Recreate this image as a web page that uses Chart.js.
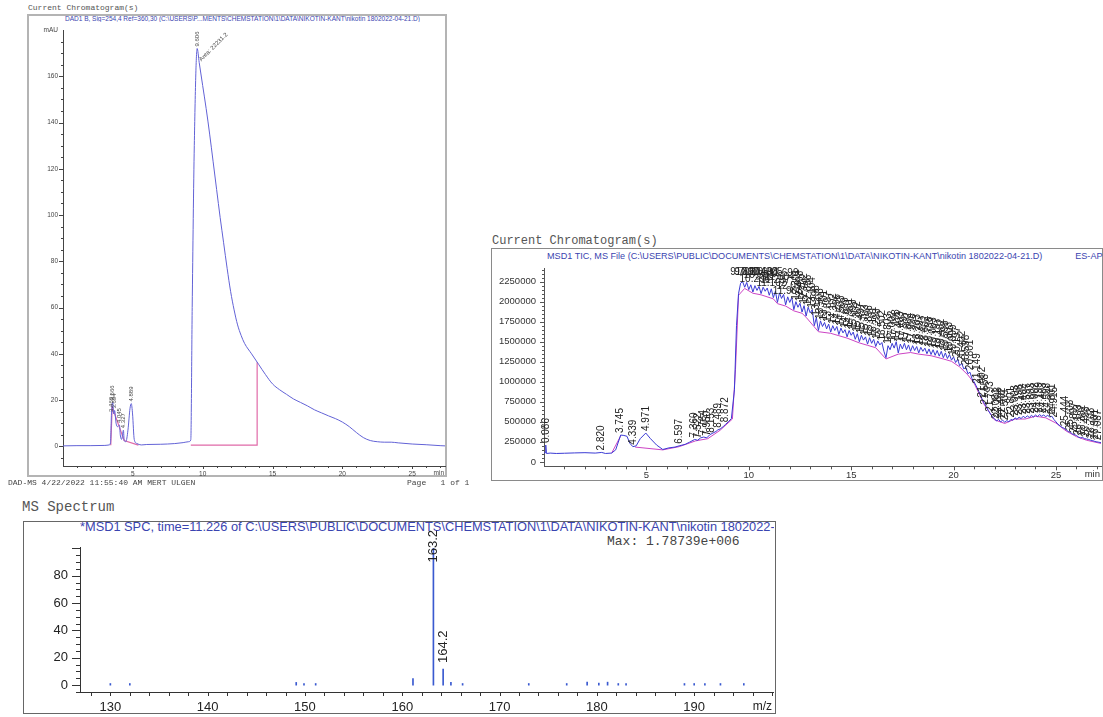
<!DOCTYPE html>
<html>
<head>
<meta charset="utf-8">
<script src="https://cdn.jsdelivr.net/npm/chart.js@4.4.1/dist/chart.umd.min.js"></script>
<style>
  body { margin: 0; background: #fff; width: 1103px; height: 717px; overflow: hidden; position: relative; }
  .txt { position: absolute; white-space: pre; line-height: 1; }
  .mono { font-family: 'Liberation Mono', 'Courier New', monospace; color: #555; }
  .ttl { font-family: 'Liberation Sans', Arial, sans-serif; color: #3a44b0; overflow: hidden; }
  .frame { position: absolute; box-sizing: border-box; }
  canvas { position: absolute; }
</style>
</head>
<body>
<!-- DAD chromatogram -->
<div class="txt mono" style="left:28px;top:4px;font-size:8px;">Current Chromatogram(s)</div>
<div class="frame" style="left:27px;top:14px;width:420px;height:463px;border:2px solid #b4b4b4;"></div>
<div class="txt ttl" style="left:65px;top:15.5px;font-size:6.5px;">DAD1 B, Sig=254,4 Ref=360,30 (C:\USERS\P...MENTS\CHEMSTATION\1\DATA\NIKOTIN-KANT\nikotin 1802022-04-21.D)</div>
<canvas id="dadChart" width="418" height="465" style="left:28px;top:15px;"></canvas>
<div class="txt mono" style="left:8px;top:479px;font-size:8px;color:#444;">DAD-MS 4/22/2022 11:55:40 AM MERT ULGEN</div>
<div class="txt mono" style="left:407px;top:479px;font-size:8px;color:#444;">Page   1 of 1</div>

<!-- MSD TIC -->
<div class="txt mono" style="left:492px;top:235px;font-size:12px;">Current Chromatogram(s)</div>
<div class="frame" style="left:491px;top:248px;width:612px;height:233px;border:1px solid #8a8a8a;"></div>
<div class="txt ttl" style="left:547px;top:251.5px;width:556px;font-size:9.1px;">MSD1 TIC, MS File (C:\USERS\PUBLIC\DOCUMENTS\CHEMSTATION\1\DATA\NIKOTIN-KANT\nikotin 1802022-04-21.D)             ES-API, Pos, Scan, Frag: 70</div>
<canvas id="ticChart" width="611" height="231" style="left:492px;top:249px;"></canvas>

<!-- MS spectrum -->
<div class="txt mono" style="left:22px;top:500px;font-size:14px;">MS Spectrum</div>
<div class="frame" style="left:23px;top:521px;width:753px;height:193px;border:1px solid #666;"></div>
<div class="txt ttl" style="left:80px;top:521px;width:694px;font-size:12.8px;">*MSD1 SPC, time=11.226 of C:\USERS\PUBLIC\DOCUMENTS\CHEMSTATION\1\DATA\NIKOTIN-KANT\nikotin 1802022-04-21.D   ES-API, Pos</div>
<div class="txt mono" style="left:607px;top:535px;font-size:13px;color:#444;">Max: 1.78739e+006</div>
<canvas id="msChart" width="751" height="191" style="left:24px;top:522px;"></canvas>

<script>
// DAD1 B, 254 nm (mAU)
const dadTime = [0, 1, 2, 3, 3.3, 3.4, 3.469, 3.52, 3.566, 3.62, 3.694, 3.8, 3.9, 4.0, 4.045, 4.1, 4.2, 4.327, 4.38, 4.5, 4.65, 4.8, 4.889, 4.98, 5.1, 5.3, 5.6,
    6, 7, 8, 8.6, 9.0, 9.15, 9.25, 9.4, 9.606, 9.75, 10, 10.25, 10.5, 10.75, 11, 11.25, 11.5, 11.75, 12, 12.25, 12.5, 12.75, 13, 13.5, 14, 14.5, 15, 15.5, 16, 16.5, 17,
    17.5, 18, 18.5, 19, 19.5, 20, 20.5, 21, 21.5, 22, 22.5, 23, 23.5, 24, 25, 26, 27, 27.35];
const dadAbs = [0.2, 0.3, 0.3, 0.4, 0.6, 1.5, 14, 18, 19, 14, 15.5, 10, 8.5, 9, 9.2, 5, 3, 7, 2.5, 2, 7, 16.5, 18.5, 14, 3, 1.2, 0.6,
    0.8, 0.9, 1.2, 1.6, 2, 2.8, 60, 130, 172, 166, 156, 146, 135, 123, 111, 99, 88, 77, 67, 59, 52.5, 48, 44.5, 40, 35.5, 31, 27, 24.5, 22.5, 20.5, 19,
    17.5, 15.8, 14.5, 13.2, 12, 10.5, 8.5, 6, 3.8, 2.5, 2, 1.8, 1.8, 1.5, 1, 0.7, 0.3, 0.2];
const dadBaseTime = [3.42, 3.52, 4.38, 5.4, 5.41, 9.15, 13.9, 13.9];
const dadBaseAbs = [0.5, 17, 2.5, 0.5, null, 0.5, 0.5, 36.4];
const dadPeakTimes = [3.469, 3.566, 3.694, 4.045, 4.327, 4.889, 9.606];
const dadAreaLabel = 'Area: 22231.2';
const dadAreaTime = 9.75;
const dadYTicks = [0, 20, 40, 60, 80, 100, 120, 140, 160, 180];
const dadXTicks = [5, 10, 15, 20, 25];

// MSD1 TIC (counts)
const ticTime = [0, 0.05, 0.086, 0.12, 0.3, 0.6, 1, 1.5, 2, 2.5, 2.82, 3.0, 3.3, 3.5, 3.745, 3.9, 4.05, 4.2, 4.339, 4.5, 4.7, 4.971,
    5.2, 5.5, 5.8, 6.1, 6.4, 6.597, 6.9, 7.1, 7.36, 7.5, 7.65, 7.8, 7.95, 8.1, 8.25, 8.4, 8.489, 8.6, 8.75, 8.872, 9.0, 9.15, 9.3, 9.4, 9.5,
    9.6, 9.7, 9.8, 9.9, 10.0, 10.1, 10.2, 10.3, 10.4, 10.5, 10.6, 10.7, 10.8, 10.9, 11.0, 11.1, 11.2, 11.3, 11.4, 11.5,
    11.6, 11.7, 11.8, 11.9, 12.0, 12.1, 12.2, 12.3, 12.4, 12.5, 12.6, 12.7, 12.8, 12.9, 13.0, 13.1, 13.2, 13.3, 13.4, 13.5,
    13.6, 13.7, 13.8, 13.9, 14.0, 14.1, 14.2, 14.3, 14.4, 14.5, 14.6, 14.7, 14.8, 14.9, 15.0, 15.1, 15.2, 15.3, 15.4, 15.5,
    15.6, 15.7, 15.8, 15.9, 16.0, 16.1, 16.2, 16.3, 16.4, 16.5, 16.6, 16.7, 16.8, 16.9, 17.0, 17.1, 17.2, 17.3, 17.4, 17.5,
    17.6, 17.7, 17.8, 17.9, 18.0, 18.1, 18.2, 18.3, 18.4, 18.5, 18.6, 18.7, 18.8, 18.9, 19.0, 19.1, 19.2, 19.3, 19.4, 19.5,
    19.6, 19.7, 19.8, 19.9, 20.0, 20.1, 20.2, 20.3, 20.4, 20.5, 20.6, 20.7, 20.8, 20.9, 21.0, 21.1, 21.2, 21.3, 21.4, 21.5,
    21.6, 21.7, 21.8, 21.9, 22.0, 22.1, 22.2, 22.3, 22.4, 22.5, 22.6, 22.7, 22.8, 22.9, 23.0, 23.1, 23.2, 23.3, 23.4, 23.5,
    23.6, 23.7, 23.8, 23.9, 24.0, 24.1, 24.2, 24.3, 24.4, 24.5, 24.6, 24.7, 24.8, 24.9, 25.0, 25.1, 25.2, 25.3, 25.4, 25.5,
    25.6, 25.7, 25.8, 25.9, 26.0, 26.1, 26.2, 26.3, 26.4, 26.5, 26.6, 26.7, 26.8, 26.9, 27.0, 27.1, 27.2];
const ticCounts = [110000, 115000, 210000, 105000, 110000, 105000, 108000, 112000, 115000, 110000, 118000, 105000, 110000, 150000, 335000, 330000, 320000, 230000, 190000, 200000, 290000, 360000,
    290000, 210000, 155000, 175000, 185000, 200000, 220000, 245000, 280000, 270000, 300000, 310000, 300000, 340000, 360000, 380000, 400000, 410000, 440000, 470000, 500000, 540000, 900000, 1700000, 2100000,
    2230000, 2250000, 2180000, 2240000, 2150000, 2210000, 2120000, 2200000, 2140000, 2190000, 2100000, 2180000, 2130000, 2170000, 2080000, 2160000, 2050000, 2130000, 1990000, 2110000,
    2040000, 2090000, 1960000, 2060000, 1990000, 2050000, 1900000, 2000000, 1930000, 1980000, 1870000, 1950000, 1820000, 1930000, 1860000, 1900000, 1700000, 1800000, 1640000, 1760000,
    1690000, 1740000, 1660000, 1720000, 1620000, 1700000, 1640000, 1690000, 1590000, 1670000, 1610000, 1650000, 1560000, 1640000, 1580000, 1620000, 1530000, 1600000, 1500000, 1580000,
    1520000, 1560000, 1470000, 1550000, 1480000, 1530000, 1440000, 1510000, 1460000, 1490000, 1380000, 1300000, 1450000, 1400000, 1480000, 1420000, 1500000, 1360000, 1470000, 1410000,
    1480000, 1400000, 1460000, 1380000, 1450000, 1390000, 1440000, 1360000, 1430000, 1380000, 1420000, 1350000, 1410000, 1340000, 1400000, 1330000, 1390000, 1320000, 1380000, 1300000,
    1360000, 1290000, 1340000, 1270000, 1310000, 1240000, 1280000, 1200000, 1230000, 1160000, 1180000, 1100000, 1120000, 1040000, 1000000, 950000, 900000, 840000, 780000, 730000,
    690000, 640000, 600000, 560000, 540000, 510000, 530000, 500000, 520000, 495000, 515000, 500000, 530000, 520000, 550000, 530000, 560000, 540000, 570000, 550000,
    575000, 555000, 580000, 560000, 585000, 565000, 590000, 570000, 585000, 565000, 580000, 560000, 570000, 530000, 500000, 470000, 450000, 430000, 420000, 400000,
    380000, 370000, 350000, 340000, 330000, 310000, 300000, 305000, 290000, 285000, 280000, 270000, 265000, 255000, 250000, 245000, 240000];
const ticBaseTime = [3.3, 3.745, 3.76, 4.45, 5.8, 6.6, 7.4, 8.0, 8.6, 9.2, 9.35, 9.5, 9.8, 10.2, 10.6, 11.2, 11.4, 11.8, 12.2, 12.6, 12.8, 13.2, 13.4,
    14.0, 14.4, 14.8, 15.4, 15.8, 16.2, 16.7, 17.3, 17.9, 18.3, 18.9, 19.5, 19.9, 20.3, 20.7, 21.0, 21.5, 22.0, 22.5, 23.0, 23.5, 24.0, 24.5, 25.0, 25.5, 26.0, 26.5, 27.2];
const ticBaseCounts = [108000, 325000, null, 185000, 150000, 190000, 262000, 290000, 395000, 535000, 1150000, 2080000, 2165000, 2105000, 2085000, 2035000, 1975000, 1945000, 1885000, 1855000, 1805000, 1685000, 1625000,
    1605000, 1575000, 1545000, 1485000, 1455000, 1425000, 1285000, 1345000, 1365000, 1345000, 1325000, 1285000, 1255000, 1185000, 1085000, 985000, 715000, 525000, 480000, 535000, 535000, 570000, 550000, 485000, 385000, 315000, 270000, 230000];
const ticPeakTimes = [0.086, 2.820, 3.745, 4.339, 4.971, 6.597, 7.360, 7.522, 7.764, 7.950, 8.153, 8.489, 8.872,
    9.702, 9.897, 10.104, 10.296, 10.503, 10.698, 10.905, 11.102, 11.297, 11.504, 11.699, 11.903, 12.097, 12.301, 12.498, 12.702, 12.896,
    13.104, 13.298, 13.503, 13.701, 13.897, 14.102, 14.296, 14.503, 14.699, 14.901, 15.098, 15.302, 15.497, 15.703, 15.896, 16.101, 16.298,
    16.502, 16.803, 17.002, 17.198, 17.403, 17.597, 17.802, 17.998, 18.203, 18.397, 18.602, 18.798, 19.003, 19.197, 19.402, 19.598, 19.803,
    19.999, 20.197, 20.402, 20.598, 20.801, 21.149, 21.402, 21.558, 21.793, 22.081, 22.203, 22.402, 22.509, 22.801, 23.003, 23.198, 23.402,
    23.597, 23.803, 24.002, 24.199, 24.403, 24.598, 24.801, 24.915, 25.444, 25.703, 25.897, 26.103, 26.302, 26.498, 26.703, 26.901, 27.087];
const ticYTicks = [0, 250000, 500000, 750000, 1000000, 1250000, 1500000, 1750000, 2000000, 2250000];
const ticXTicks = [5, 10, 15, 20, 25];

// MS spectrum at 11.226 min (relative abundance)
const msMz = [130.0, 132.0, 149.1, 149.9, 151.1, 161.1, 163.2, 164.2, 165.0, 166.2, 173.0, 176.9, 179.0, 180.2, 181.1, 182.2, 183.0, 189.0, 190.0, 191.1, 192.7, 195.1];
const msAbund = [1.2, 1.2, 2.0, 1.2, 1.2, 4.8, 100, 11.8, 2.0, 1.2, 1.2, 1.2, 2.2, 1.5, 2.2, 1.2, 1.2, 1.2, 1.2, 1.2, 1.2, 1.2];
const msLabelMz = [163.2, 164.2];
const msYTicks = [0, 20, 40, 60, 80];
const msXTicks = [130, 140, 150, 160, 170, 180, 190];

Chart.defaults.font.family = "'Liberation Sans', Arial, sans-serif";
Chart.defaults.animation = false;

function toPoints(xs, ys) {
    return xs.map((x, i) => ({x: x, y: ys[i]}));
}

// nearest recorded value (for placing labels on top of a peak)
function valueAt(xs, ys, t) {
    let best = 0;
    xs.forEach((x, i) => { if (ys[i] !== null && Math.abs(x - t) < Math.abs(xs[best] - t)) best = i; });
    return ys[best];
}

function setTicks(list) {
    return function (scale) { scale.ticks = list.map(v => ({value: v})); };
}

// minor / major tick marks and the unit label at the end of the x axis
const axisTicks = {
    id: 'axisTicks',
    afterDraw(chart, args, opts) {
        const {ctx, chartArea} = chart;
        ctx.save();
        ctx.strokeStyle = opts.color;
        ctx.lineWidth = 1;
        ['x', 'y'].forEach(id => {
            const o = opts[id];
            if (!o) return;
            const sc = chart.scales[id];
            const n = Math.round((o.to - o.from) / o.step);
            for (let k = 0; k <= n; k++) {
                const v = o.from + k * o.step;
                const r = v / o.major;
                const len = Math.abs(r - Math.round(r)) < 1e-6 ? o.majorLen : o.minorLen;
                const p = Math.round(sc.getPixelForValue(v)) + 0.5;
                ctx.beginPath();
                if (id === 'x') {
                    ctx.moveTo(p, chartArea.bottom);
                    ctx.lineTo(p, chartArea.bottom + len);
                } else {
                    ctx.moveTo(chartArea.left, p);
                    ctx.lineTo(chartArea.left - len, p);
                }
                ctx.stroke();
            }
        });
        if (opts.unit) {
            ctx.fillStyle = opts.unitColor;
            ctx.font = opts.unitFont;
            ctx.textAlign = 'right';
            ctx.textBaseline = 'middle';
            ctx.fillText(opts.unit, chartArea.right - 1, chartArea.bottom + opts.unitDy);
        }
        ctx.restore();
    }
};

// rotated retention time / m/z labels above peaks
const peakLabels = {
    id: 'peakLabels',
    afterDatasetsDraw(chart, args, opts) {
        const {ctx, chartArea} = chart;
        const xs = chart.scales.x, ys = chart.scales.y;
        ctx.save();
        ctx.font = opts.font;
        ctx.fillStyle = opts.color;
        ctx.textBaseline = 'middle';
        opts.items.forEach((it, i) => {
            const px = xs.getPixelForValue(it.x);
            const py = ys.getPixelForValue(it.y);
            const w = ctx.measureText(it.text).width;
            const angle = it.angle === undefined ? -90 : it.angle;
            let base = py - opts.gap;
            if (angle === -90 && opts.minTop !== undefined) {
                base = Math.max(base, chartArea.top + opts.minTop + w);
            }
            if (angle === -90 && opts.flat && base - w < chartArea.top) {
                ctx.textAlign = 'center';
                const yy = Math.max(chartArea.top + 4, py - 6 - (i % 4) * 5);
                ctx.fillText(it.text, px, yy);
                return;
            }
            ctx.save();
            ctx.translate(px + (it.dx || 0), base);
            ctx.rotate(angle * Math.PI / 180);
            ctx.textAlign = 'left';
            ctx.fillText(it.text, 0, 0);
            ctx.restore();
        });
        ctx.restore();
    }
};

document.addEventListener('DOMContentLoaded', function () {
    // DAD chromatogram
    const dadItems = dadPeakTimes.map(t => ({x: t, y: valueAt(dadTime, dadAbs, t), text: t.toFixed(3)}));
    dadItems.push({x: dadAreaTime, y: valueAt(dadTime, dadAbs, dadAreaTime), text: dadAreaLabel, angle: -45, dx: 1});

    new Chart(document.getElementById('dadChart').getContext('2d'), {
        type: 'line',
        data: {
            datasets: [
                {
                    data: toPoints(dadTime, dadAbs),
                    borderColor: '#6262d6',
                    borderWidth: 1,
                    pointRadius: 0,
                    cubicInterpolationMode: 'monotone',
                    order: 0
                },
                {
                    data: toPoints(dadBaseTime, dadBaseAbs),
                    borderColor: '#e06aa8',
                    borderWidth: 1.2,
                    pointRadius: 0,
                    order: 1
                }
            ]
        },
        options: {
            responsive: false,
            layout: {padding: {left: 0, top: 15, right: 1, bottom: 0}},
            scales: {
                x: {
                    type: 'linear',
                    min: 0,
                    max: 27.35,
                    afterFit: function (scale) { scale.height = 14; },
                    afterBuildTicks: setTicks(dadXTicks),
                    grid: {display: false, drawTicks: false},
                    border: {color: '#444', width: 1},
                    ticks: {font: {size: 6.5}, color: '#444', padding: 4, autoSkip: false, maxRotation: 0}
                },
                y: {
                    min: -8.5,
                    max: 180,
                    afterFit: function (scale) { scale.width = 35; },
                    afterBuildTicks: setTicks(dadYTicks),
                    grid: {display: false, drawTicks: false},
                    border: {color: '#444', width: 1},
                    ticks: {
                        font: {size: 6.5},
                        color: '#444',
                        padding: 5,
                        callback: v => (v === 180 ? 'mAU' : v)
                    }
                }
            },
            plugins: {
                legend: {display: false},
                tooltip: {enabled: false},
                axisTicks: {
                    color: '#444',
                    x: {from: 1, to: 27, step: 1, major: 5, majorLen: 3, minorLen: 2},
                    y: {from: -5, to: 175, step: 5, major: 20, majorLen: 4, minorLen: 2},
                    unit: 'min', unitFont: "6.5px 'Liberation Sans', Arial", unitColor: '#444', unitDy: 7
                },
                peakLabels: {font: "6px 'Liberation Sans', Arial", color: '#444', gap: 2, items: dadItems}
            }
        },
        plugins: [axisTicks, peakLabels]
    });

    // MSD TIC
    const ticItems = ticPeakTimes.map(t => ({x: t, y: valueAt(ticTime, ticCounts, t), text: t.toFixed(3)}));

    new Chart(document.getElementById('ticChart').getContext('2d'), {
        type: 'line',
        data: {
            datasets: [
                {
                    data: toPoints(ticTime, ticCounts),
                    borderColor: '#3b3bd4',
                    borderWidth: 1,
                    pointRadius: 0,
                    order: 0
                },
                {
                    data: toPoints(ticBaseTime, ticBaseCounts),
                    borderColor: '#cc44c4',
                    borderWidth: 1,
                    pointRadius: 0,
                    order: 1
                }
            ]
        },
        options: {
            responsive: false,
            layout: {padding: {left: 0, top: 19, right: 2, bottom: 0}},
            scales: {
                x: {
                    type: 'linear',
                    min: 0,
                    max: 27.2,
                    afterFit: function (scale) { scale.height = 13; },
                    afterBuildTicks: setTicks(ticXTicks),
                    grid: {display: false, drawTicks: false},
                    border: {color: '#555', width: 1},
                    ticks: {font: {size: 9.5}, color: '#333', padding: 3, autoSkip: false, maxRotation: 0}
                },
                y: {
                    min: -55000,
                    max: 2420000,
                    afterFit: function (scale) { scale.width = 52; },
                    afterBuildTicks: setTicks(ticYTicks),
                    grid: {display: false, drawTicks: false},
                    border: {color: '#555', width: 1},
                    ticks: {font: {size: 9.5}, color: '#333', padding: 8, callback: v => String(v)}
                }
            },
            plugins: {
                legend: {display: false},
                tooltip: {enabled: false},
                axisTicks: {
                    color: '#555',
                    x: {from: 1, to: 27, step: 1, major: 5, majorLen: 4, minorLen: 3},
                    y: {from: 0, to: 2400000, step: 50000, major: 250000, majorLen: 4, minorLen: 2},
                    unit: 'min', unitFont: "9.5px 'Liberation Sans', Arial", unitColor: '#333', unitDy: 8
                },
                peakLabels: {font: "10px 'Liberation Sans', Arial", color: '#222', gap: 2, flat: true, items: ticItems}
            }
        },
        plugins: [axisTicks, peakLabels]
    });

    // MS spectrum
    const msItems = msLabelMz.map(m => ({x: m, y: valueAt(msMz, msAbund, m), text: m.toFixed(1)}));

    new Chart(document.getElementById('msChart').getContext('2d'), {
        type: 'bar',
        data: {
            datasets: [{
                data: toPoints(msMz, msAbund),
                backgroundColor: '#3a5ad0',
                borderWidth: 0,
                barThickness: 1
            }]
        },
        options: {
            responsive: false,
            layout: {padding: {left: 0, top: 25, right: 2, bottom: 0}},
            scales: {
                x: {
                    type: 'linear',
                    offset: false,
                    min: 126.88,
                    max: 198.1,
                    afterFit: function (scale) { scale.height = 21; },
                    afterBuildTicks: setTicks(msXTicks),
                    grid: {display: false, drawTicks: false, offset: false},
                    border: {color: '#333', width: 1},
                    ticks: {font: {family: "'Liberation Sans Narrow', 'Arial Narrow', sans-serif", size: 13}, color: '#222', padding: 8, autoSkip: false, maxRotation: 0}
                },
                y: {
                    min: -5,
                    max: 101,
                    afterFit: function (scale) { scale.width = 56; },
                    afterBuildTicks: setTicks(msYTicks),
                    grid: {display: false, drawTicks: false},
                    border: {color: '#333', width: 1},
                    ticks: {font: {family: "'Liberation Sans Narrow', 'Arial Narrow', sans-serif", size: 13}, color: '#222', padding: 12}
                }
            },
            plugins: {
                legend: {display: false},
                tooltip: {enabled: false},
                axisTicks: {
                    color: '#333',
                    x: {from: 128, to: 198, step: 2, major: 10, majorLen: 4, minorLen: 4},
                    y: {from: -5, to: 100, step: 5, major: 20, majorLen: 8, minorLen: 4},
                    unit: 'm/z', unitFont: "12px 'Liberation Sans Narrow', 'Arial Narrow', sans-serif", unitColor: '#222', unitDy: 15
                },
                peakLabels: {font: "13px 'Liberation Sans', Arial", color: '#222', gap: 6, minTop: -17, items: msItems}
            }
        },
        plugins: [axisTicks, peakLabels]
    });
});
</script>
</body>
</html>
